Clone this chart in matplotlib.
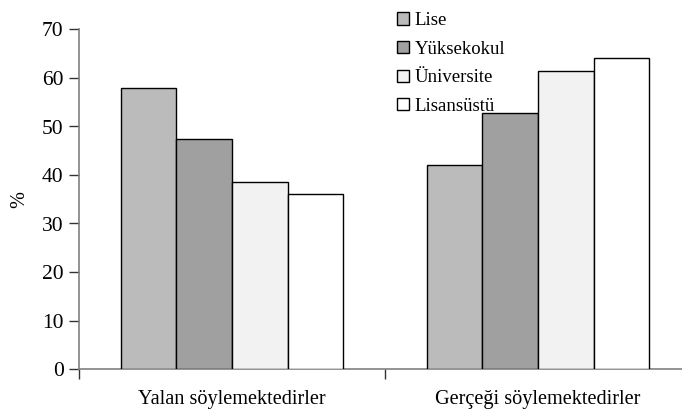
import matplotlib
matplotlib.use("Agg")
import matplotlib.pyplot as plt
import numpy as np
from matplotlib.patches import Patch

categories = ["Yalan söylemektedirler", "Gerçeği söylemektedirler"]
series_names = ["Lise", "Yüksekokul", "Üniversite", "Lisansüstü"]
lise = [58.0, 42.0]
yuksekokul = [47.5, 52.7]
universite = [38.5, 61.5]
lisansustu = [36.0, 64.2]
yticks = [0, 10, 20, 30, 40, 50, 60, 70]

series = [lise, yuksekokul, universite, lisansustu]
colors = ["#BBBBBB", "#A0A0A0", "#F2F2F2", "#FFFFFF"]

plt.rcParams['font.family'] = ['Liberation Serif', 'DejaVu Serif']

fig = plt.figure(figsize=(6.82, 4.19), dpi=100)
ax = fig.add_axes([79/682, 50/419, 612/682, 339.5/419])

x = np.arange(len(categories))
w = 0.182
for i, (vals, c) in enumerate(zip(series, colors)):
    ax.bar(x + (i - 1.5) * w, vals, width=w, color=c, edgecolor="black",
           linewidth=1.0, label=series_names[i], zorder=3)

ax.set_xlim(-0.5, 1.5)
ax.set_ylim(0, 70)
ax.set_yticks(yticks)
ax.set_yticklabels([str(t) for t in yticks], fontsize=15.5)
ax.set_xticks(x)
ax.set_xticklabels(categories, fontsize=14.6)
ax.tick_params(axis='x', which='major', length=0, pad=15)
ax.set_xticks([-0.5, 0.5, 1.5], minor=True)
ax.tick_params(axis='x', which='minor', length=7, width=1, color='#333333')
ax.tick_params(axis='y', length=7, width=1, color='#333333', pad=4)

for s in ['top', 'right']:
    ax.spines[s].set_visible(False)
for s in ['left', 'bottom']:
    ax.spines[s].set_color('#808080')
    ax.spines[s].set_linewidth(1.2)

ax.set_ylabel('%', fontsize=14.6, labelpad=9)

handles = [Patch(facecolor=c, edgecolor='black', linewidth=1.0) for c in colors]
fig.legend(handles, series_names, loc='upper left',
           bbox_to_anchor=(384/682, 1 + 1/419), frameon=False, fontsize=13.5,
           handlelength=0.62, handleheight=0.62, handletextpad=0.3,
           labelspacing=0.62, borderpad=0.2)

fig.savefig('out.png', dpi=100)
